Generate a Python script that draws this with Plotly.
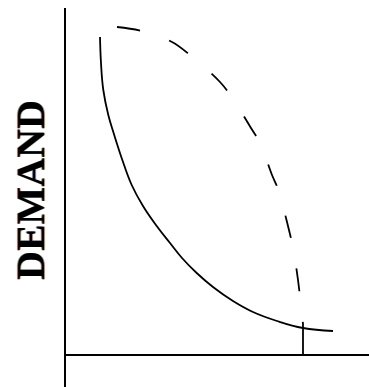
import plotly.graph_objects as go

# Solid demand curve (quantity, demand) in chart units
solid_q = [35, 36, 38.3, 43.3, 48.3, 53, 57, 66.7, 78, 91.7, 105, 117, 131.7, 148, 168, 188, 212, 238, 268]
solid_d = [318, 292, 265, 240, 223, 208, 196, 170, 149, 129, 112, 97, 82, 68, 54, 43, 34, 27, 24]

# Dashed curve
dash_q = [52, 77, 107, 125, 155, 168, 186, 195, 207, 213, 222, 228, 233, 236, 238]
dash_d = [328, 324, 313, 300, 273, 256, 227, 212, 180, 166, 133, 107, 75, 49, 31]

# Drop line at the end of dashed curve
drop_q = [238, 238]
drop_d = [31, 0]

# Axes extents
yaxis_line_d = [-32, 347]
xaxis_line_q = [0, 304]

label_text = "DEMAND"

fig = go.Figure()
fig.add_trace(go.Scatter(x=[0, 0], y=yaxis_line_d, mode="lines",
                         line=dict(color="black", width=2), hoverinfo="skip"))
fig.add_trace(go.Scatter(x=xaxis_line_q, y=[0, 0], mode="lines",
                         line=dict(color="black", width=2), hoverinfo="skip"))
fig.add_trace(go.Scatter(x=solid_q, y=solid_d, mode="lines",
                         line=dict(color="black", width=1.8, shape="spline", smoothing=1.2),
                         hoverinfo="skip"))
fig.add_trace(go.Scatter(x=dash_q, y=dash_d, mode="lines",
                         line=dict(color="black", width=1.8, shape="spline", dash="23px,31px"),
                         hoverinfo="skip"))
fig.add_trace(go.Scatter(x=drop_q, y=drop_d, mode="lines",
                         line=dict(color="black", width=1.8), hoverinfo="skip"))

fig.add_annotation(x=-35, y=165, xref="x", yref="y", text=label_text, showarrow=False,
                   textangle=-90,
                   font=dict(family="Liberation Serif, Times New Roman, serif", size=40,
                             color="black", weight="bold",
                             shadow="0px -1px 0px #4a8fd8, 0px 1px 0px #f0a050"))

# Full-window figure; page margin removed below
fig.update_layout(
    width=369, height=387,
    margin=dict(l=0, r=0, t=0, b=0),
    paper_bgcolor="white", plot_bgcolor="white",
    showlegend=False,
    xaxis=dict(range=[-65, 304], visible=False, fixedrange=True),
    yaxis=dict(range=[-32, 355], visible=False, fixedrange=True),
)

fig.write_html("out.html", config={"displayModeBar": False},
               post_script="document.body.style.margin='0';"
                           "document.documentElement.style.overflow='hidden';"
                           "document.body.style.overflow='hidden';")
